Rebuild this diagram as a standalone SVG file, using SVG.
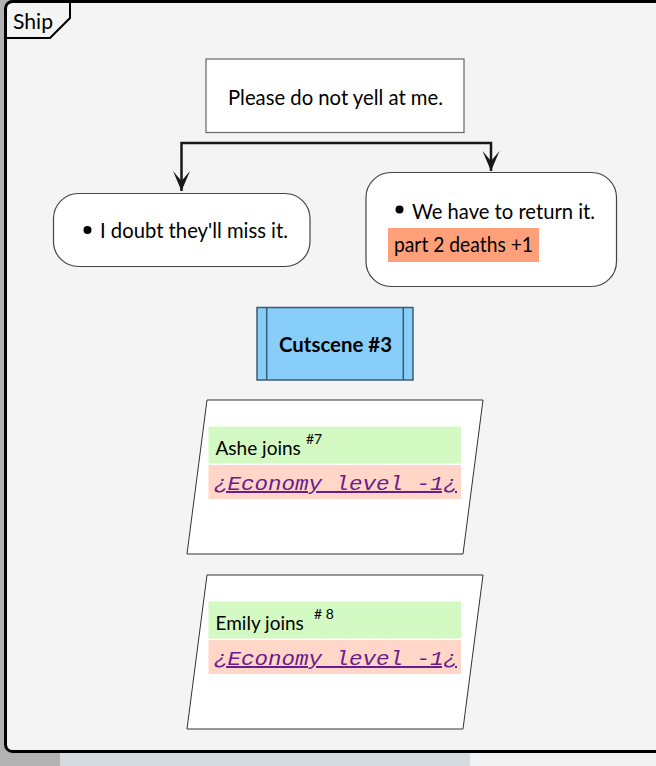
<svg xmlns="http://www.w3.org/2000/svg" width="656" height="766" viewBox="0 0 656 766">
<style>
.t{font-family:Lato,"Open Sans","Noto Sans",sans-serif;font-size:21.5px;fill:#000}
.node{fill:#fff;stroke:#444;stroke-width:1.2}
.para{fill:#fff;stroke:#333;stroke-width:1}
.mono{font-family:"Liberation Mono","DejaVu Sans Mono",monospace;font-style:italic;font-size:20px;fill:#6a1b8c;text-decoration:underline}
.sup{font-family:Lato,"Open Sans",sans-serif;font-size:14px;fill:#000}
.conn{fill:none;stroke:#181818;stroke-width:2.5}
</style>
<defs>
<marker id="arr" viewBox="-21 -10 22 20" markerWidth="22" markerHeight="20" refX="0" refY="0" markerUnits="userSpaceOnUse" orient="auto">
<path d="M0,0 L-20,-8.5 L-10,0 L-20,8.5 Z" fill="#181818"/>
</marker>
</defs>
<!-- background outside frame -->
<rect x="0" y="0" width="656" height="766" fill="#b2b2b2"/>
<rect x="60" y="752" width="410" height="14" fill="#d6dbe0"/>
<rect x="470" y="752" width="186" height="14" fill="#f2f2f2"/>
<!-- frame -->
<g id="frame">
<rect x="5.5" y="1.5" width="700" height="750" rx="7" fill="#f4f4f4" stroke="#000" stroke-width="3"/>
<path d="M5.5,38 H50 L70,18 V1.5" fill="none" stroke="#000" stroke-width="2"/>
<text x="13" y="28.5" class="t" textLength="40" lengthAdjust="spacingAndGlyphs">Ship</text>
</g>
<g id="connectors">
<path class="conn" d="M336,143 H181.5 V191" marker-end="url(#arr)"/>
<path class="conn" d="M336,143 H491 V171" marker-end="url(#arr)"/>
</g>
<g id="n-please">
<rect x="206" y="59" width="258" height="73.5" fill="#fff" stroke="#666" stroke-width="1.2"/>
<text x="228" y="105" class="t" textLength="215" lengthAdjust="spacingAndGlyphs">Please do not yell at me.</text>
</g>
<g id="n-doubt">
<rect x="53.5" y="193.5" width="256.5" height="73" rx="25" class="node"/>
<circle cx="87.5" cy="230" r="4" fill="#000"/>
<text x="100" y="238" class="t" textLength="188" lengthAdjust="spacingAndGlyphs">I doubt they'll miss it.</text>
</g>
<g id="n-return">
<rect x="366" y="172.5" width="250.5" height="114" rx="25" class="node"/>
<circle cx="399.5" cy="209.5" r="4" fill="#000"/>
<text x="412" y="218.5" class="t" textLength="183" lengthAdjust="spacingAndGlyphs">We have to return it.</text>
<rect x="388" y="228" width="151" height="34" fill="#ffa07a"/>
<text x="394" y="252" class="t" textLength="139" lengthAdjust="spacingAndGlyphs">part 2 deaths +1</text>
</g>
<g id="n-cutscene">
<rect x="257" y="307.5" width="156" height="72.5" fill="#87cefa" stroke="#3e5a70" stroke-width="1.5"/>
<line x1="266.7" y1="307.5" x2="266.7" y2="380" stroke="#3e5a70" stroke-width="1.5"/>
<line x1="403.3" y1="307.5" x2="403.3" y2="380" stroke="#3e5a70" stroke-width="1.5"/>
<text x="279" y="352" class="t" style="font-weight:bold" textLength="113" lengthAdjust="spacingAndGlyphs">Cutscene #3</text>
</g>
<g id="n-ashe">
<polygon class="para" points="207,400 483,400 463,554 187,554"/>
<rect x="208.5" y="426.5" width="252.5" height="37" fill="#d4fac4"/>
<rect x="208.5" y="465" width="252.5" height="34" fill="#ffd6c7"/>
<text x="215.5" y="455" class="t" style="font-size:19px">Ashe joins</text>
<text x="306" y="444" class="sup">#7</text>
<text x="214" y="490" class="mono" textLength="243" lengthAdjust="spacingAndGlyphs">¿Economy level -1¿</text>
</g>
<g id="n-emily">
<polygon class="para" points="207,575 483,575 463,729 187,729"/>
<rect x="208.5" y="601.5" width="252.5" height="37" fill="#d4fac4"/>
<rect x="208.5" y="640" width="252.5" height="34" fill="#ffd6c7"/>
<text x="215.5" y="630" class="t" style="font-size:19px">Emily joins</text>
<text x="314" y="619" class="sup"># 8</text>
<text x="214" y="665" class="mono" textLength="243" lengthAdjust="spacingAndGlyphs">¿Economy level -1¿</text>
</g>
</svg>
